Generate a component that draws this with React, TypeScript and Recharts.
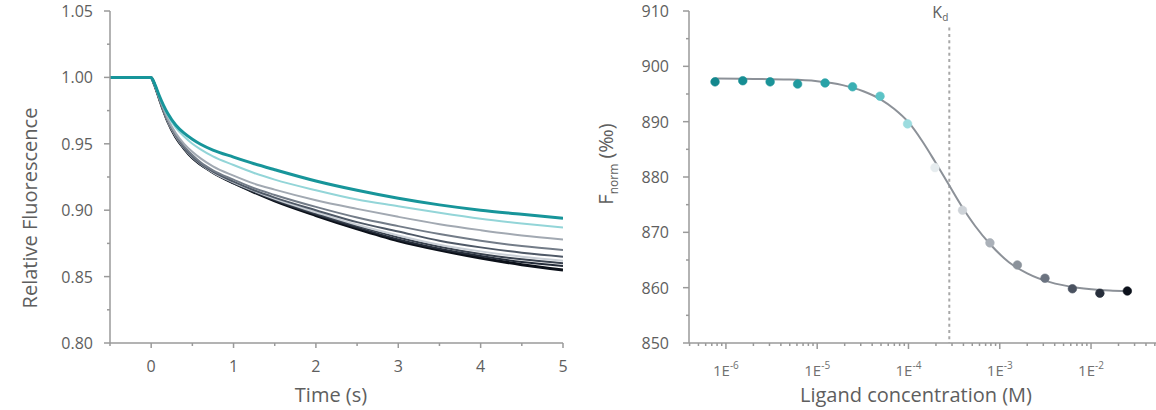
import React from 'react';
import { ComposedChart, Line, Scatter, Cell, XAxis, YAxis, ReferenceLine, Label } from 'recharts';

// ---- left panel: fluorescence traces ----
const times = [-0.5, -0.25, 0, 0.025, 0.05, 0.1, 0.15, 0.2, 0.3, 0.4, 0.5, 0.6, 0.75, 1, 1.25, 1.5, 2, 2.5, 3, 3.5, 4, 4.5, 5];

const traceTeal = [1, 1, 1, 0.9975, 0.994, 0.986, 0.979, 0.973, 0.964, 0.958, 0.9535, 0.9497, 0.9453, 0.94, 0.935, 0.9305, 0.922, 0.915, 0.909, 0.904, 0.9, 0.897, 0.894];
const traceCyan = [1, 1, 1, 0.9975, 0.9935, 0.9855, 0.978, 0.9715, 0.962, 0.9555, 0.95, 0.9458, 0.9405, 0.934, 0.928, 0.923, 0.915, 0.908, 0.903, 0.898, 0.8935, 0.89, 0.887];
const traceGrey1 = [1, 1, 1, 0.997, 0.993, 0.9845, 0.9765, 0.969, 0.958, 0.95, 0.944, 0.939, 0.933, 0.926, 0.92, 0.9155, 0.9075, 0.901, 0.895, 0.8895, 0.885, 0.881, 0.878];
const traceGrey2 = [1, 1, 1, 0.997, 0.993, 0.984, 0.9755, 0.968, 0.9565, 0.948, 0.9415, 0.936, 0.93, 0.923, 0.9165, 0.9115, 0.9025, 0.8945, 0.888, 0.882, 0.877, 0.873, 0.87];
const traceGrey3 = [1, 1, 1, 0.997, 0.993, 0.984, 0.975, 0.9675, 0.956, 0.947, 0.9405, 0.935, 0.929, 0.9215, 0.915, 0.9095, 0.9, 0.891, 0.884, 0.877, 0.872, 0.868, 0.865];
const traceLight = [1, 1, 1, 0.997, 0.993, 0.984, 0.975, 0.967, 0.9555, 0.9468, 0.94, 0.9348, 0.9285, 0.921, 0.9145, 0.9085, 0.8985, 0.889, 0.881, 0.874, 0.869, 0.865, 0.862];
const traceDark1 = [1, 1, 1, 0.997, 0.993, 0.984, 0.975, 0.967, 0.955, 0.9465, 0.9395, 0.9345, 0.9285, 0.9205, 0.914, 0.908, 0.8975, 0.888, 0.8795, 0.8725, 0.867, 0.863, 0.86];
const traceDark2 = [1, 1, 1, 0.997, 0.993, 0.984, 0.975, 0.967, 0.955, 0.9465, 0.9395, 0.9345, 0.9285, 0.9205, 0.9138, 0.9075, 0.8968, 0.887, 0.878, 0.871, 0.8655, 0.861, 0.858];
const traceBlack = [1, 1, 1, 0.997, 0.993, 0.984, 0.975, 0.967, 0.955, 0.9465, 0.9395, 0.9345, 0.9285, 0.9205, 0.9135, 0.907, 0.896, 0.886, 0.877, 0.87, 0.864, 0.859, 0.855];

const timeMajors = [0, 1, 2, 3, 4, 5];
const timeMinors = [-0.5, 0.5, 1.5, 2.5, 3.5, 4.5];
const relMajors = [0.8, 0.85, 0.9, 0.95, 1.0, 1.05];
const relMinors = [0.825, 0.875, 0.925, 0.975, 1.025];

// ---- right panel: dose response ----
const ligandConc = [7.6e-7, 1.53e-6, 3.05e-6, 6.1e-6, 1.22e-5, 2.44e-5, 4.88e-5, 9.77e-5, 1.95e-4, 3.91e-4, 7.81e-4, 1.56e-3, 3.13e-3, 6.25e-3, 1.25e-2, 2.5e-2];
const fnormValues = [897.2, 897.4, 897.2, 896.8, 897.0, 896.3, 894.6, 889.6, 881.7, 874.0, 868.1, 864.1, 861.7, 859.8, 859.0, 859.4];

const fitConc = [7.6e-7, 5e-6, 1e-5, 1.9e-5, 3.2e-5, 5e-5, 7e-5, 1e-4, 1.4e-4, 1.95e-4, 2.7e-4, 3.8e-4, 5.4e-4, 7.9e-4, 1.26e-3, 2e-3, 3.55e-3, 7.1e-3, 1.6e-2, 2.5e-2];
const fitValues = [897.8, 897.6, 897.3, 896.6, 895.5, 894.0, 892.3, 889.9, 886.6, 882.8, 878.9, 874.8, 871.1, 867.8, 864.6, 862.6, 861.0, 860.0, 859.5, 859.4];

const kd = 2.8e-4;

const concMajors = [1e-6, 1e-5, 1e-4, 1e-3, 1e-2];
const concMajorExp = ['-6', '-5', '-4', '-3', '-2'];
const fnormMajors = [850, 860, 870, 880, 890, 900, 910];
const fnormMinors = [855, 865, 875, 885, 895, 905];

const traceColors = ['#0b1019', '#232b38', '#39424f', '#c9cfd6', '#4f5967', '#737c88', '#a2a9b2', '#93d5d8', '#17959a'];
const dotColors = ['#13878d', '#168d93', '#1a9398', '#209a9f', '#28a2a7', '#3aafb3', '#5cc3c6', '#9cdcdf', '#e6ecef', '#ced3d8', '#aab0b8', '#8b929b', '#6b7380', '#4a5260', '#272e3b', '#0c111b'];

const axisGrey = '#9a9a9a';
const textGrey = '#5e5e5e';
const font = '"Open Sans", "Noto Sans", sans-serif';

const traces = [traceBlack, traceDark2, traceDark1, traceLight, traceGrey3, traceGrey2, traceGrey1, traceCyan, traceTeal];

const traceRows = times.map((t, i) => {
  const row: Record<string, number> = { t };
  traces.forEach((s, k) => (row['s' + k] = s[i]));
  return row;
});

const dots = ligandConc.map((c, i) => ({ c, f: fnormValues[i] }));
const fit = fitConc.map((c, i) => ({ c, f: fitValues[i] }));

const logMinorTicks: number[] = [];
[1e-7, 1e-6, 1e-5, 1e-4, 1e-3, 1e-2].forEach((d) => {
  for (let m = 2; m <= 9; m++) {
    const v = m * d;
    if (v > 3.94e-7 && v < 5.15e-2) logMinorTicks.push(v);
  }
});

const sortNum = (a: number[]) => [...a].sort((x, y) => x - y);

function makeYTick(majors: number[], fmt: (v: number) => string, gap: number) {
  return (p: any) => {
    const v = p.payload.value;
    const major = majors.some((m) => Math.abs(m - v) < 1e-9);
    return (
      <g>
        <line x1={p.x} x2={p.x - (major ? 6 : 3)} y1={p.y} y2={p.y} stroke={axisGrey} strokeWidth={1.5} />
        {major && (
          <text x={p.x - gap} y={p.y} dy={6} textAnchor="end" fontSize={16} fill={textGrey} fontFamily={font}>
            {fmt(v)}
          </text>
        )}
      </g>
    );
  };
}

const timeTick = (p: any) => {
  const v = p.payload.value;
  const major = timeMajors.includes(v);
  return (
    <g>
      <line x1={p.x} x2={p.x} y1={p.y} y2={p.y + (major ? 5 : 3)} stroke={axisGrey} strokeWidth={1.5} />
      {major && (
        <text x={p.x} y={p.y} dy={29} textAnchor="middle" fontSize={16} fill={textGrey} fontFamily={font}>
          {v}
        </text>
      )}
    </g>
  );
};

const concTick = (p: any) => {
  const v = p.payload.value;
  const idx = concMajors.findIndex((m) => Math.abs(m - v) / m < 1e-6);
  const major = idx >= 0;
  return (
    <g>
      <line x1={p.x} x2={p.x} y1={p.y} y2={p.y + (major ? 6 : 3)} stroke={axisGrey} strokeWidth={1.5} />
      {major && (
        <text x={p.x} y={p.y} dy={33} textAnchor="middle" fontSize={15} fill="#707070" fontFamily={font}>
          1E
          <tspan fontSize={10} dy={-7}>{concMajorExp[idx]}</tspan>
        </text>
      )}
    </g>
  );
};

export default function App() {
  return (
    <div style={{ position: 'absolute', left: 0, top: 0, width: 1156, height: 410, background: '#fff' }}>
      <div style={{ position: 'absolute', left: 0, top: 0 }}>
        <ComposedChart width={580} height={410} data={traceRows} margin={{ top: 11, right: 17, bottom: 0, left: 0 }}>
          <XAxis
            dataKey="t"
            type="number"
            domain={[-0.5, 5]}
            ticks={sortNum([...timeMajors, ...timeMinors])}
            interval={0}
            tickSize={0}
            tickMargin={0}
            tick={timeTick}
            height={67}
            axisLine={{ stroke: axisGrey, strokeWidth: 1.5 }}
            allowDataOverflow
          >
            <Label
              content={() => (
                <text x={331} y={402} textAnchor="middle" fontSize={20} fill={textGrey} fontFamily={font}>
                  Time (s)
                </text>
              )}
            />
          </XAxis>
          <YAxis
            type="number"
            domain={[0.8, 1.05]}
            ticks={sortNum([...relMajors, ...relMinors])}
            interval={0}
            tickSize={0}
            tickMargin={0}
            tick={makeYTick(relMajors, (v) => v.toFixed(2), 17)}
            width={110}
            axisLine={{ stroke: axisGrey, strokeWidth: 1.5 }}
            allowDataOverflow
          >
            <Label
              content={() => (
                <text x={37} y={208} transform="rotate(-90 37 208)" textAnchor="middle" fontSize={20} fill={textGrey} fontFamily={font}>
                  Relative Fluorescence
                </text>
              )}
            />
          </YAxis>
          {traces.map((_, k) => (
            <Line
              key={k}
              dataKey={'s' + k}
              type="monotone"
              stroke={traceColors[k]}
              strokeWidth={k === 0 || k === traces.length - 1 ? 3 : 2}
              dot={false}
              isAnimationActive={false}
            />
          ))}
        </ComposedChart>
      </div>

      <div style={{ position: 'absolute', left: 580, top: 0 }}>
        <ComposedChart width={576} height={410} margin={{ top: 11, right: 0, bottom: 0, left: 0 }}>
          <XAxis
            dataKey="c"
            type="number"
            scale="log"
            domain={[3.94e-7, 5.15e-2]}
            ticks={sortNum([...concMajors, ...logMinorTicks])}
            interval={0}
            tickSize={0}
            tickMargin={0}
            tick={concTick}
            height={67}
            axisLine={{ stroke: axisGrey, strokeWidth: 1.5 }}
            allowDataOverflow
          >
            <Label
              content={() => (
                <text x={336} y={402} textAnchor="middle" fontSize={20} fill={textGrey} fontFamily={font}>
                  Ligand concentration (M)
                </text>
              )}
            />
          </XAxis>
          <YAxis
            dataKey="f"
            type="number"
            domain={[850, 910]}
            ticks={sortNum([...fnormMajors, ...fnormMinors])}
            interval={0}
            tickSize={0}
            tickMargin={0}
            tick={makeYTick(fnormMajors, (v) => String(v), 20)}
            width={109}
            axisLine={{ stroke: axisGrey, strokeWidth: 1.5 }}
            allowDataOverflow
          >
            <Label
              content={() => (
                <text x={33} y={164} transform="rotate(-90 33 164)" textAnchor="middle" fontSize={20} fill={textGrey} fontFamily={font}>
                  F
                  <tspan fontSize={12} dy={5}>norm</tspan>
                  <tspan dy={-5}> (‰)</tspan>
                </text>
              )}
            />
          </YAxis>
          <ReferenceLine
            segment={[{ x: kd, y: 907 }, { x: kd, y: 850 }]}
            stroke="#a8a8a8"
            strokeWidth={2}
            strokeDasharray="3 3.3"
            label={(p: any) => {
              const vb = p.viewBox || {};
              return (
                <text x={vb.x - 1} y={vb.y - 10} textAnchor="end" fontSize={16} fill={textGrey} fontFamily={font}>
                  K<tspan fontSize={10} dy={3}>d</tspan>
                </text>
              );
            }}
          />
          <Line data={fit} dataKey="f" type="monotone" stroke="#8c9198" strokeWidth={2} dot={false} isAnimationActive={false} />
          <Scatter
            data={dots}
            dataKey="f"
            isAnimationActive={false}
            shape={(p: any) => <circle cx={p.cx} cy={p.cy} r={4.3} fill={p.fill} stroke={p.fill} strokeOpacity={0.6} strokeWidth={1} />}
          >
            {dots.map((_, i) => (
              <Cell key={i} fill={dotColors[i]} />
            ))}
          </Scatter>
        </ComposedChart>
      </div>
    </div>
  );
}
